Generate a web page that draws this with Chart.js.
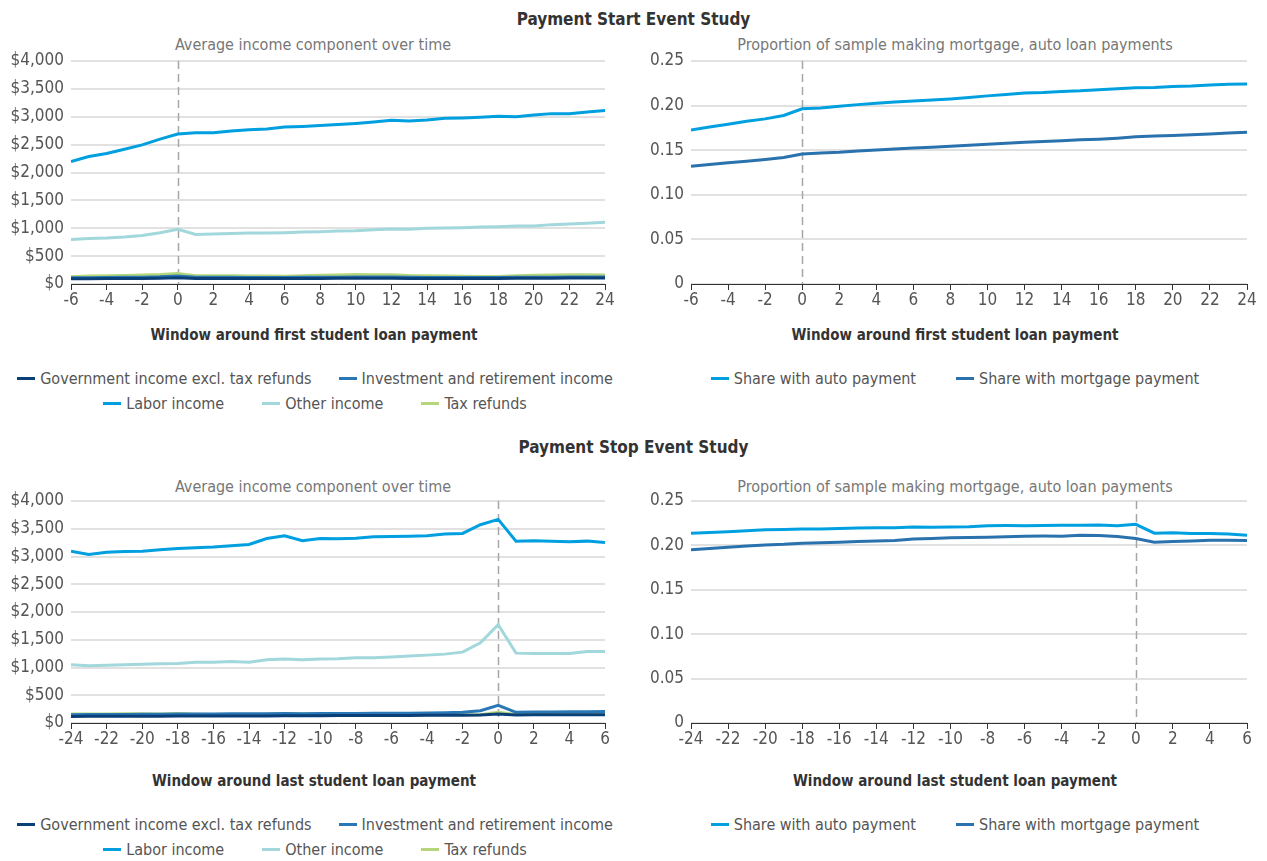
<!DOCTYPE html>
<html>
<head>
<meta charset="utf-8">
<script src="https://cdn.jsdelivr.net/npm/chart.js@4.4.1/dist/chart.umd.min.js"></script>
<style>
  body { margin: 0; width: 1267px; height: 861px; overflow: hidden; background: #fff;
         font-family: 'DejaVu Sans Condensed', 'Liberation Sans Narrow', 'Open Sans', sans-serif; }
  .heading { position: absolute; left: 0; width: 1267px; text-align: center; font-weight: bold;
             font-size: 17px; color: #333; line-height: 22px; }
  .label { position: absolute; width: 600px; text-align: center; line-height: 20px; white-space: nowrap; }
  .sub { color: #777; font-size: 16px; }
  .xtitle { color: #333; font-size: 15px; font-weight: bold; }
  canvas { position: absolute; }
  .legend { position: absolute; display: flex; flex-direction: column; align-items: center; color: #555; font-size: 16px; }
  .legend .row { display: flex; justify-content: center; height: 25px; align-items: center; }
  .legend .item { display: flex; align-items: center; white-space: nowrap; }
  .legend .swatch { width: 18px; height: 3px; margin-right: 5px; }
</style>
</head>
<body>
<div class="heading" style="top:8px">Payment Start Event Study</div>
<div class="heading" style="top:436px">Payment Stop Event Study</div>

<div class="label sub" style="left:13px;top:35px">Average income component over time</div>
<div class="label sub" style="left:655px;top:35px">Proportion of sample making mortgage, auto loan payments</div>
<div class="label sub" style="left:13px;top:477px">Average income component over time</div>
<div class="label sub" style="left:655px;top:477px">Proportion of sample making mortgage, auto loan payments</div>

<div class="label xtitle" style="left:14px;top:325px">Window around first student loan payment</div>
<div class="label xtitle" style="left:655px;top:325px">Window around first student loan payment</div>
<div class="label xtitle" style="left:14px;top:771px">Window around last student loan payment</div>
<div class="label xtitle" style="left:655px;top:771px">Window around last student loan payment</div>

<canvas id="startIncome" width="630" height="284" style="left:0;top:30px"></canvas>
<canvas id="startShare" width="637" height="284" style="left:630px;top:30px"></canvas>
<canvas id="stopIncome" width="630" height="283" style="left:0;top:470px"></canvas>
<canvas id="stopShare" width="637" height="283" style="left:630px;top:470px"></canvas>

<div class="legend" id="legStartIncome" style="left:0;width:630px;top:366px"></div>
<div class="legend" id="legStartShare" style="left:630px;width:650px;top:366px"></div>
<div class="legend" id="legStopIncome" style="left:0;width:630px;top:812px"></div>
<div class="legend" id="legStopShare" style="left:630px;width:650px;top:812px"></div>

<script>
const FONT = "'DejaVu Sans Condensed', 'Liberation Sans Narrow', 'Open Sans', sans-serif";

// Months relative to the first / last student loan payment
const startMonths = [-6, -5, -4, -3, -2, -1, 0, 1, 2, 3, 4, 5, 6, 7, 8, 9, 10, 11, 12, 13, 14, 15, 16, 17, 18, 19, 20, 21, 22, 23, 24];
const stopMonths = [-24, -23, -22, -21, -20, -19, -18, -17, -16, -15, -14, -13, -12, -11, -10, -9, -8, -7, -6, -5, -4, -3, -2, -1, 0, 1, 2, 3, 4, 5, 6];

// Payment start: average income components ($)
const startGov = [95, 96, 98, 99, 100, 103, 110, 100, 99, 99, 98, 98, 97, 99, 100, 101, 102, 102, 101, 100, 99, 98, 98, 98, 99, 102, 104, 105, 106, 106, 107];
const startInv = [110, 114, 117, 119, 123, 130, 145, 122, 120, 119, 118, 117, 116, 119, 121, 123, 126, 125, 124, 120, 118, 117, 116, 115, 116, 119, 121, 123, 124, 125, 126];
const startLabor = [2195, 2286, 2340, 2418, 2496, 2598, 2689, 2713, 2713, 2743, 2767, 2779, 2815, 2827, 2845, 2863, 2881, 2905, 2935, 2923, 2941, 2971, 2977, 2989, 3008, 3002, 3032, 3056, 3056, 3086, 3110];
const startOther = [800, 818, 824, 842, 872, 920, 980, 890, 896, 908, 914, 914, 920, 932, 938, 950, 956, 974, 986, 980, 998, 1004, 1010, 1023, 1029, 1041, 1041, 1065, 1077, 1089, 1107];
const startTax = [130, 142, 148, 152, 160, 170, 188, 150, 148, 146, 144, 142, 140, 150, 155, 160, 172, 166, 165, 152, 148, 145, 140, 136, 134, 148, 155, 160, 168, 165, 163];

// Payment start: share making auto / mortgage payments
const startAuto = [0.1726, 0.1760, 0.1791, 0.1825, 0.1851, 0.1889, 0.1965, 0.1973, 0.1992, 0.2011, 0.2026, 0.2041, 0.2052, 0.2064, 0.2075, 0.2090, 0.2109, 0.2124, 0.2140, 0.2147, 0.2159, 0.2166, 0.2178, 0.2189, 0.2200, 0.2204, 0.2215, 0.2219, 0.2231, 0.2238, 0.2242];
const startMortgage = [0.1320, 0.1339, 0.1358, 0.1377, 0.1396, 0.1419, 0.1457, 0.1468, 0.1476, 0.1491, 0.1502, 0.1514, 0.1525, 0.1533, 0.1544, 0.1555, 0.1567, 0.1578, 0.1590, 0.1597, 0.1605, 0.1616, 0.1624, 0.1635, 0.1650, 0.1658, 0.1665, 0.1673, 0.1681, 0.1692, 0.1700];

// Payment stop: average income components ($)
const stopGov = [118, 120, 121, 121, 123, 122, 124, 125, 125, 127, 128, 128, 130, 131, 131, 133, 134, 134, 136, 137, 138, 139, 141, 146, 160, 146, 147, 147, 149, 150, 150];
const stopInv = [150, 152, 153, 155, 157, 158, 160, 162, 163, 165, 166, 168, 169, 168, 170, 171, 172, 174, 175, 177, 180, 184, 192, 222, 318, 192, 196, 199, 202, 204, 208];
const stopLabor = [3096, 3036, 3078, 3090, 3096, 3120, 3145, 3157, 3169, 3193, 3217, 3325, 3373, 3283, 3325, 3319, 3331, 3355, 3361, 3367, 3373, 3404, 3416, 3572, 3669, 3277, 3283, 3277, 3265, 3277, 3253];
const stopOther = [1048, 1030, 1042, 1048, 1060, 1066, 1072, 1096, 1096, 1108, 1096, 1139, 1151, 1139, 1151, 1157, 1175, 1175, 1187, 1205, 1223, 1241, 1277, 1446, 1771, 1259, 1253, 1253, 1253, 1289, 1289];
const stopTax = [160, 162, 163, 165, 168, 160, 170, 158, 152, 150, 150, 158, 165, 160, 158, 162, 165, 162, 160, 152, 150, 152, 148, 150, 195, 155, 160, 165, 168, 165, 162];

// Payment stop: share making auto / mortgage payments
const stopAuto = [0.2138, 0.2145, 0.2153, 0.2165, 0.2176, 0.2180, 0.2184, 0.2186, 0.2191, 0.2196, 0.2199, 0.2200, 0.2207, 0.2205, 0.2207, 0.2210, 0.2222, 0.2224, 0.2222, 0.2224, 0.2226, 0.2228, 0.2229, 0.2222, 0.2237, 0.2138, 0.2142, 0.2134, 0.2134, 0.2127, 0.2115];
const stopMortgage = [0.1951, 0.1965, 0.1978, 0.1992, 0.2005, 0.2012, 0.2024, 0.2031, 0.2035, 0.2043, 0.2050, 0.2054, 0.2073, 0.2079, 0.2085, 0.2088, 0.2092, 0.2097, 0.2104, 0.2106, 0.2104, 0.2115, 0.2111, 0.2100, 0.2077, 0.2035, 0.2043, 0.2050, 0.2058, 0.2058, 0.2054];

const incomeSeries = [
    { label: 'Government income excl. tax refunds', color: '#0b3f78' },
    { label: 'Investment and retirement income', color: '#2a77b5' },
    { label: 'Labor income', color: '#009fdf' },
    { label: 'Other income', color: '#a2d8db' },
    { label: 'Tax refunds', color: '#b6d67c' }
];
const shareSeries = [
    { label: 'Share with auto payment', color: '#00a0e0' },
    { label: 'Share with mortgage payment', color: '#2a72ae' }
];

Chart.defaults.font.family = FONT;
Chart.defaults.color = '#555';

// Dashed marker at month 0
const zeroLine = {
    id: 'zeroLine',
    beforeDatasetsDraw(chart) {
        const x = Math.round(chart.scales.x.getPixelForValue(0)) + 0.5;
        const { top, bottom } = chart.chartArea;
        const ctx = chart.ctx;
        ctx.save();
        ctx.strokeStyle = '#a6a6a6';
        ctx.lineWidth = 1.5;
        ctx.setLineDash([8, 5]);
        ctx.beginPath();
        ctx.moveTo(x, top);
        ctx.lineTo(x, bottom);
        ctx.stroke();
        ctx.restore();
    }
};

function points(months, values) {
    return months.map((m, i) => ({ x: m, y: values[i] }));
}

function makeChart(id, opts) {
    const datasets = opts.series.map((s, i) => ({
        label: s.label,
        data: points(opts.months, opts.values[i]),
        borderColor: s.color,
        backgroundColor: s.color,
        borderWidth: 3,
        pointRadius: 0,
        tension: 0
    }));

    new Chart(document.getElementById(id), {
        type: 'line',
        data: { datasets: datasets },
        plugins: [zeroLine],
        options: {
            responsive: false,
            animation: false,
            layout: { padding: { left: 0, right: opts.padRight, top: 31, bottom: 0 } },
            plugins: {
                legend: { display: false },
                tooltip: { enabled: false }
            },
            scales: {
                x: {
                    type: 'linear',
                    min: opts.months[0],
                    max: opts.months[opts.months.length - 1],
                    afterFit: s => { s.height = 30; },
                    border: { display: true, color: '#333', width: 1 },
                    grid: { drawOnChartArea: false, drawTicks: true, tickLength: 6, color: '#333' },
                    ticks: { stepSize: 2, padding: 0, color: '#555', font: { size: 17 }, maxRotation: 0,
                             callback: v => String(v) }
                },
                y: {
                    min: 0,
                    max: opts.yMax,
                    afterFit: s => { s.width = opts.axisWidth; },
                    border: { display: false },
                    grid: { color: '#e1e1e1', lineWidth: 2, drawTicks: false },
                    ticks: { stepSize: opts.yStep, padding: 7, color: '#555', font: { size: 17 },
                             callback: opts.yFormat }
                }
            }
        }
    });
}

function buildLegend(id, series, rows, gaps) {
    const box = document.getElementById(id);
    rows.forEach((row, r) => {
        const rowEl = document.createElement('div');
        rowEl.className = 'row';
        rowEl.style.gap = gaps[r] + 'px';
        row.forEach(idx => {
            const item = document.createElement('div');
            item.className = 'item';
            item.innerHTML = '<span class="swatch" style="background:' + series[idx].color + '"></span>' + series[idx].label;
            rowEl.appendChild(item);
        });
        box.appendChild(rowEl);
    });
}

const dollars = v => '$' + v.toLocaleString('en-US');
const shares = v => v === 0 ? '0' : v.toFixed(2);

makeChart('startIncome', {
    months: startMonths, series: incomeSeries,
    values: [startGov, startInv, startLabor, startOther, startTax],
    yMax: 4000, yStep: 500, yFormat: dollars, padRight: 25, axisWidth: 71
});
makeChart('startShare', {
    months: startMonths, series: shareSeries,
    values: [startAuto, startMortgage],
    yMax: 0.25, yStep: 0.05, yFormat: shares, padRight: 20, axisWidth: 61
});
makeChart('stopIncome', {
    months: stopMonths, series: incomeSeries,
    values: [stopGov, stopInv, stopLabor, stopOther, stopTax],
    yMax: 4000, yStep: 500, yFormat: dollars, padRight: 25, axisWidth: 71
});
makeChart('stopShare', {
    months: stopMonths, series: shareSeries,
    values: [stopAuto, stopMortgage],
    yMax: 0.25, yStep: 0.05, yFormat: shares, padRight: 20, axisWidth: 61
});

buildLegend('legStartIncome', incomeSeries, [[0, 1], [2, 3, 4]], [27, 38]);
buildLegend('legStopIncome', incomeSeries, [[0, 1], [2, 3, 4]], [27, 38]);
buildLegend('legStartShare', shareSeries, [[0, 1]], [40]);
buildLegend('legStopShare', shareSeries, [[0, 1]], [40]);
</script>
</body>
</html>
